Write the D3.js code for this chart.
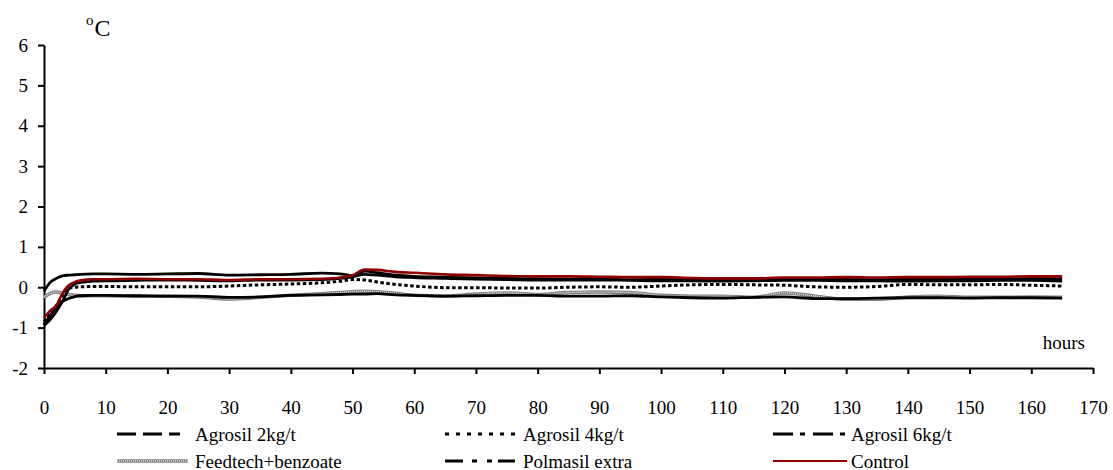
<!DOCTYPE html>
<html><head><meta charset="utf-8">
<script src="https://cdn.jsdelivr.net/npm/d3@7"></script>
<style>
html,body{margin:0;padding:0;background:#fff;}
svg{display:block;font-family:"Liberation Serif","Times New Roman",serif;}
</style></head>
<body><svg id="chart" width="1113" height="470"></svg>
<script>
// ---- data ----
const hours = [0,1,2,3,4,5,6,8,10,15,20,25,30,35,40,45,48,50,52,54,57,60,65,70,75,80,85,90,95,100,105,110,115,120,125,130,135,140,145,150,155,160,165];
const agrosil2 = [-0.92,-0.70,-0.50,-0.35,-0.28,-0.23,-0.21,-0.20,-0.20,-0.21,-0.22,-0.22,-0.25,-0.24,-0.20,-0.19,-0.18,-0.17,-0.17,-0.16,-0.19,-0.20,-0.22,-0.21,-0.20,-0.20,-0.22,-0.22,-0.21,-0.24,-0.26,-0.27,-0.25,-0.24,-0.28,-0.28,-0.27,-0.26,-0.26,-0.27,-0.26,-0.26,-0.27];
const agrosil4 = [-0.85,-0.65,-0.45,-0.20,-0.02,0.00,0.01,0.02,0.02,0.01,0.01,0.01,0.03,0.06,0.08,0.11,0.15,0.19,0.18,0.13,0.07,0.03,-0.01,-0.01,-0.02,-0.02,0.00,0.01,0.00,0.03,0.06,0.07,0.06,0.05,0.01,0.00,0.02,0.07,0.06,0.06,0.07,0.05,0.03];
const agrosil6 = [-0.10,0.12,0.22,0.28,0.30,0.31,0.32,0.33,0.33,0.32,0.33,0.34,0.30,0.31,0.32,0.35,0.33,0.29,0.40,0.36,0.30,0.27,0.25,0.23,0.22,0.21,0.20,0.20,0.19,0.20,0.19,0.18,0.18,0.20,0.21,0.20,0.19,0.20,0.20,0.21,0.20,0.22,0.21];
const feedtech = [-0.25,-0.15,-0.12,-0.15,-0.18,-0.20,-0.21,-0.21,-0.21,-0.22,-0.22,-0.24,-0.29,-0.25,-0.20,-0.16,-0.13,-0.11,-0.10,-0.11,-0.15,-0.20,-0.22,-0.17,-0.14,-0.18,-0.13,-0.12,-0.13,-0.20,-0.22,-0.22,-0.25,-0.14,-0.22,-0.30,-0.30,-0.24,-0.22,-0.25,-0.25,-0.24,-0.25];
const polmasil = [-0.95,-0.80,-0.60,-0.35,-0.05,0.08,0.12,0.15,0.16,0.17,0.18,0.17,0.16,0.18,0.18,0.19,0.22,0.26,0.32,0.30,0.26,0.24,0.22,0.20,0.19,0.18,0.18,0.18,0.17,0.16,0.16,0.15,0.16,0.17,0.17,0.16,0.16,0.15,0.16,0.16,0.17,0.17,0.15];
const control = [-0.76,-0.58,-0.45,-0.15,0.05,0.13,0.17,0.20,0.20,0.21,0.20,0.20,0.18,0.20,0.20,0.21,0.24,0.30,0.44,0.43,0.38,0.36,0.32,0.30,0.28,0.27,0.27,0.26,0.25,0.25,0.23,0.22,0.22,0.24,0.24,0.25,0.24,0.25,0.25,0.26,0.26,0.27,0.27];
const seriesNames = ["Agrosil 2kg/t","Agrosil 4kg/t","Agrosil 6kg/t","Feedtech+benzoate","Polmasil extra","Control"];
const xTicks = [0,10,20,30,40,50,60,70,80,90,100,110,120,130,140,150,160,170];
const yTicks = [-2,-1,0,1,2,3,4,5,6];

// ---- layout ----
const svg = d3.select("#chart");
const x = d3.scaleLinear().domain([0,170]).range([44,1093]);
const y = d3.scaleLinear().domain([-2,6]).range([368,45]);

// axes
const fmt = d => String(d);
const yAxis = d3.axisLeft(y).tickValues(yTicks).tickSize(6).tickSizeOuter(0).tickPadding(10).tickFormat(fmt);
const xAxis = d3.axisBottom(x).tickValues(xTicks).tickSize(6).tickSizeOuter(0).tickPadding(33).tickFormat(fmt);
const gy = svg.append("g").attr("transform",`translate(${x(0)},0)`).call(yAxis);
const gx = svg.append("g").attr("transform",`translate(0,${y(-2)})`).call(xAxis);
[gy,gx].forEach(g=>{
  g.select(".domain").attr("stroke","#000").attr("stroke-width",2);
  g.selectAll(".tick line").attr("stroke","#000").attr("stroke-width",2);
  g.selectAll(".tick text").attr("fill","#000").style("font-size","19px").style("font-family","Liberation Serif");
});
gx.selectAll(".tick text").attr("dy","0.35em");

// unit labels
const unit = svg.append("text").attr("x",86).attr("y",36).style("font-family","Liberation Serif").attr("fill","#000");
unit.append("tspan").text("o").style("font-size","15px").attr("dy","-11");
unit.append("tspan").text("C").style("font-size","24px").attr("dy","11").attr("dx","1");
svg.append("text").attr("x",1085).attr("y",342).attr("text-anchor","end").attr("dominant-baseline","central")
  .style("font-size","19px").attr("fill","#000").text("hours");

// lines
const rows = (vals)=>hours.map((h,i)=>({h,v:vals[i]}));
const line = d3.line().x(d=>x(d.h)).y(d=>y(d.v)).curve(d3.curveMonotoneX);
const plot = svg.append("g").attr("fill","none").attr("stroke-linejoin","round");

// Feedtech gray textured line
plot.append("path").attr("d",line(rows(feedtech))).attr("stroke","#808080").attr("stroke-width",3.5);
plot.append("path").attr("d",line(rows(feedtech))).attr("stroke","#e0e0e0").attr("stroke-width",1.4).attr("stroke-dasharray","1,1");
plot.append("path").attr("d",line(rows(agrosil2))).attr("stroke","#000").attr("stroke-width",2.8);
plot.append("path").attr("d",line(rows(agrosil4))).attr("stroke","#000").attr("stroke-width",3).attr("stroke-dasharray","3.5,2.5");
plot.append("path").attr("d",line(rows(polmasil))).attr("stroke","#000").attr("stroke-width",2.8);
plot.append("path").attr("d",line(rows(agrosil6))).attr("stroke","#000").attr("stroke-width",2.8);
plot.append("path").attr("d",line(rows(control))).attr("stroke","#900000").attr("stroke-width",2.6);

// legend
const legendItems = [
  {name:seriesNames[0], col:0,row:0, color:"#000", dash:"19,7", len:63},
  {name:seriesNames[1], col:1,row:0, color:"#000", dash:"4,7", len:77},
  {name:seriesNames[2], col:2,row:0, color:"#000", dash:"20,7,5,8", len:72},
  {name:seriesNames[3], col:0,row:1, color:"gray", dash:null, len:71},
  {name:seriesNames[4], col:1,row:1, color:"#000", dash:"18,9,5,10,5,6,17", len:70},
  {name:seriesNames[5], col:2,row:1, color:"#900000", dash:null, len:74}
];
const colX = [117,445,773], rowY = [434,461];
const lg = svg.append("g");
legendItems.forEach(it=>{
  const x0 = colX[it.col], y0 = rowY[it.row];
  if(it.color==="gray"){
    lg.append("line").attr("x1",x0).attr("x2",x0+it.len).attr("y1",y0).attr("y2",y0).attr("stroke","#808080").attr("stroke-width",3.5);
    lg.append("line").attr("x1",x0).attr("x2",x0+it.len).attr("y1",y0).attr("y2",y0).attr("stroke","#e0e0e0").attr("stroke-width",1.4).attr("stroke-dasharray","1,1");
  } else {
    const l = lg.append("line").attr("x1",x0).attr("x2",x0+it.len).attr("y1",y0).attr("y2",y0).attr("stroke",it.color).attr("stroke-width",it.color==="#000"?3:2.2);
    if(it.dash) l.attr("stroke-dasharray",it.dash);
  }
  lg.append("text").attr("x",x0+78).attr("y",y0).attr("dominant-baseline","central")
    .style("font-size","19px").attr("fill","#000").text(it.name);
});
</script></body></html>
